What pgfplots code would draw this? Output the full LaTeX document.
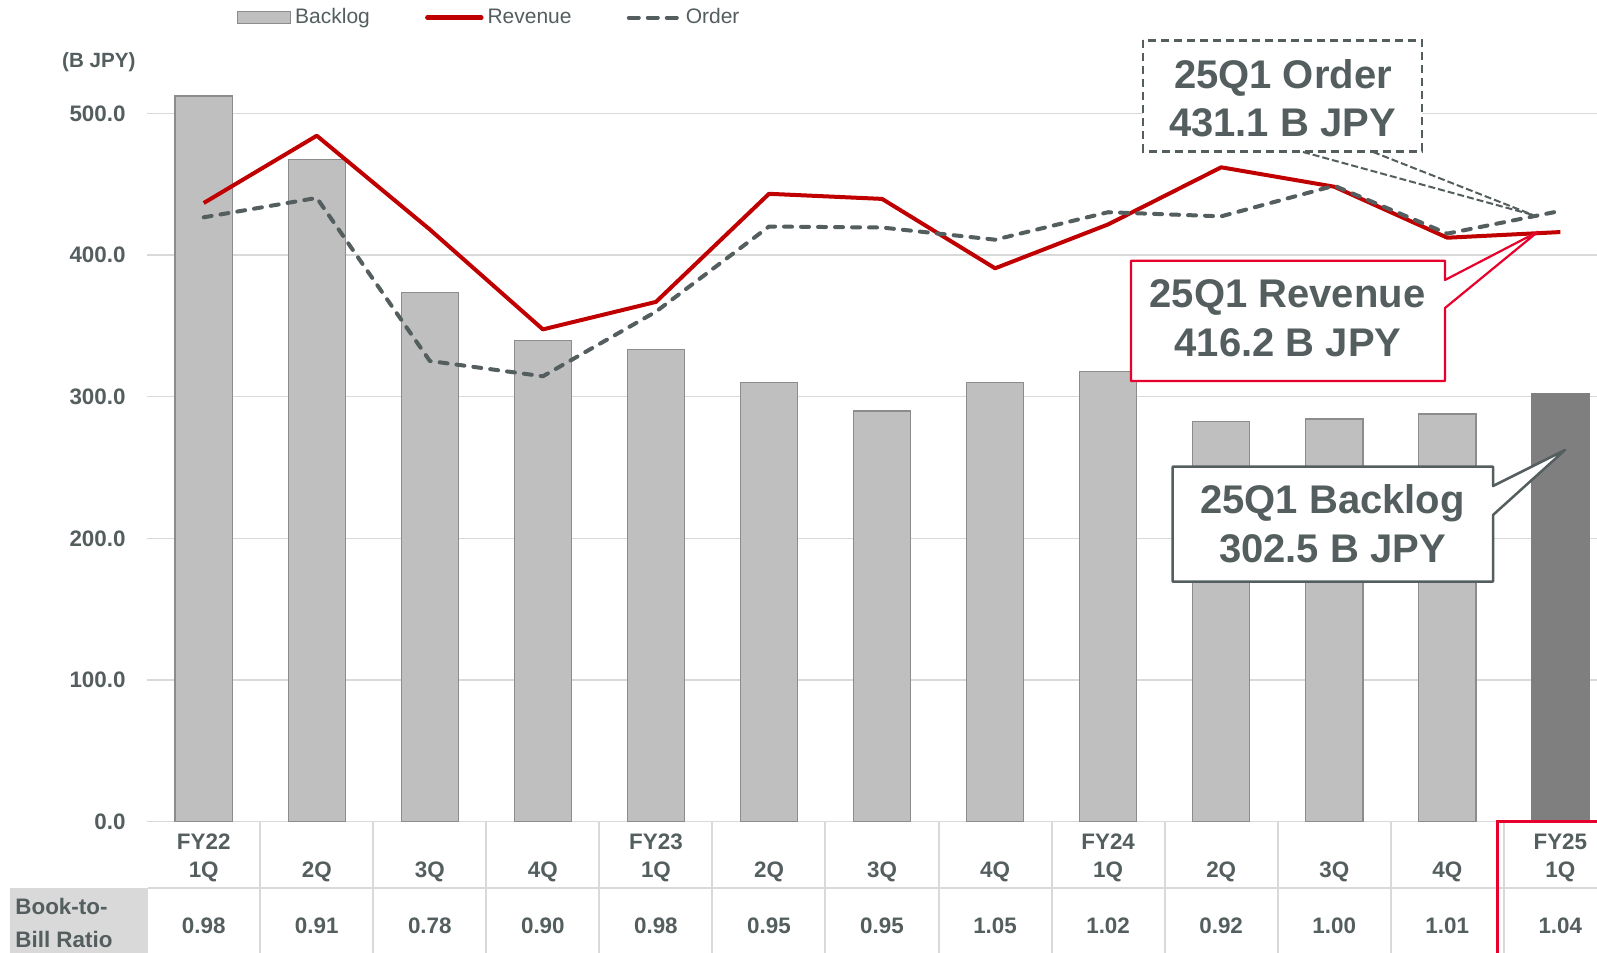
\documentclass[border=0pt]{standalone}
\usepackage{pgfplots}
\pgfplotsset{compat=1.18}
\usepackage{fontspec}
\setmainfont{Liberation Sans}
\definecolor{tc}{RGB}{84,94,94}
\definecolor{barfill}{RGB}{191,191,191}
\definecolor{bardraw}{RGB}{140,140,140}
\definecolor{lastbar}{RGB}{127,127,127}
\definecolor{revred}{RGB}{192,0,0}
\definecolor{hired}{RGB}{232,0,45}
\definecolor{gridc}{RGB}{217,217,217}
\newcommand{\tl}[2]{\strut #1\\\strut #2}
\begin{document}
\begin{tikzpicture}
\begin{axis}[
  at={(73.6pt,65.65pt)}, anchor=south west,
  scale only axis, width=724.9pt, height=410.85pt,
  xmin=-0.5, xmax=12.324, ymin=0, ymax=580,
  axis line style={draw=none},
  major tick length=0pt,
  ytick={0,100,...,500},
  ymajorgrids, grid style={draw=gridc, line width=0.75pt},
  yticklabel={\pgfmathprintnumber[fixed,fixed zerofill,precision=1,assume math mode=true]{\tick}},
  yticklabel style={anchor=east, inner sep=0pt, xshift=-10.6pt, font=\fontsize{11.2pt}{13pt}\selectfont\bfseries, text=tc},
  xtick={0,...,12},
  xticklabels={{\tl{FY22}{1Q}},{\tl{}{2Q}},{\tl{}{3Q}},{\tl{}{4Q}},{\tl{FY23}{1Q}},{\tl{}{2Q}},{\tl{}{3Q}},{\tl{}{4Q}},{\tl{FY24}{1Q}},{\tl{}{2Q}},{\tl{}{3Q}},{\tl{}{4Q}},{\tl{FY25}{1Q}}},
  xticklabel style={anchor=north, inner sep=0pt, yshift=-3.85pt, align=center, font=\fontsize{11.2pt}{14pt}\selectfont\bfseries, text=tc},
  legend columns=3,
  legend cell align=left,
  legend style={at={(axis description cs:0.0614,0.9785)}, anchor=west, draw=none, fill=none, inner sep=0pt, nodes={inner sep=2pt}, font=\fontsize{10.5pt}{12pt}\selectfont, text=tc, /tikz/every even column/.append style={column sep=25.6pt}},
]
\addplot[ybar, bar width=28.65pt, bar shift=0pt, fill=barfill, draw=bardraw, line width=0.6pt,
  legend image code/.code={\draw[fill=barfill, draw=bardraw, line width=0.6pt] (0pt,-2.9pt) rectangle (26.7pt,2.9pt);}]
  coordinates {(0,512.2) (1,467.6) (2,373.4) (3,339.6) (4,333.1) (5,310.1) (6,289.9) (7,310.1) (8,318.0) (9,282.7) (10,284.2) (11,287.8)};
\addlegendentry{Backlog}
\addplot[ybar, bar width=28.65pt, bar shift=0pt, fill=lastbar, draw=lastbar, line width=0.6pt, forget plot]
  coordinates {(12,302.5)};
\addplot[revred, line width=2pt, line join=round, mark=none,
  legend image code/.code={\draw[revred, line width=2.2pt, line cap=round] (0pt,0pt) -- (27pt,0pt);}]
  coordinates {(0,436.7) (1,484.2) (2,418.0) (3,347.5) (4,366.9) (5,443.2) (6,439.6) (7,390.6) (8,421.6) (9,461.9) (10,448.2) (11,412.2) (12,416.2)};
\addlegendentry{Revenue}
\addplot[tc, line width=2pt, dash pattern=on 4pt off 4.5pt, line cap=round, line join=round, mark=none,
  legend image code/.code={\draw[tc, line width=2pt, dash pattern=on 5pt off 4.5pt, line cap=round] (1pt,0pt) -- (26.5pt,0pt);}]
  coordinates {(0,426.6) (1,440.3) (2,325.2) (3,314.4) (4,360.0) (5,420.1) (6,419.4) (7,410.8) (8,430.2) (9,427.3) (10,448.9) (11,415.1) (12,431.1)};
\addlegendentry{Order}
\end{axis}
\begin{scope}[x=0.5pt, y=-0.5pt, yshift=476.5pt]
  % table
  \fill[gridc] (10,888) rectangle (148,956);
  \draw[gridc, line width=1pt] (148,888) -- (1600,888);
  \foreach \i in {0,...,11} {
    \draw[gridc, line width=1pt] ({203.7+113.05*(\i+0.5)},822.5) -- ({203.7+113.05*(\i+0.5)},956);
  }
  \draw[hired, line width=1.5pt] (1497.5,958) -- (1497.5,821.7) -- (1602,821.7);
  \foreach \v [count=\i from 0] in {0.98,0.91,0.78,0.90,0.98,0.95,0.95,1.05,1.02,0.92,1.00,1.01,1.04} {
    \node[anchor=base, inner sep=0pt, font=\fontsize{11.2pt}{13pt}\selectfont\bfseries, text=tc] at ({203.7+113.05*\i},933.5) {\v};
  }
  \node[anchor=base west, inner sep=0pt, font=\fontsize{11.2pt}{13pt}\selectfont\bfseries, text=tc] at (15,915) {Book-to-};
  \node[anchor=base west, inner sep=0pt, font=\fontsize{11.2pt}{13pt}\selectfont\bfseries, text=tc] at (15,947.3) {Bill Ratio};
  % unit
  \node[inner sep=0pt, font=\fontsize{10.3pt}{12pt}\selectfont\bfseries, text=tc] at (98.8,62.1) {(B JPY)};
  % order callout
  \draw[tc, line width=1.15pt, dash pattern=on 4pt off 2.5pt, fill=white] (1143,40.5) rectangle (1422,151.5);
  \draw[tc, line width=1pt, dash pattern=on 3.5pt off 1.5pt] (1303,152) -- (1533,215);
  \draw[tc, line width=1pt, dash pattern=on 3.5pt off 1.5pt] (1373,152) -- (1533,215);
  \node[anchor=base, inner sep=0pt, font=\fontsize{20pt}{24pt}\selectfont\bfseries, text=tc] at (1283,88.3) {25Q1 Order};
  \node[anchor=base, inner sep=0pt, font=\fontsize{20pt}{24pt}\selectfont\bfseries, text=tc] at (1282.5,136.7) {431.1 B JPY};
  % revenue callout
  \draw[hired, line width=1.1pt, fill=white, line join=round] (1131,260.7) -- (1445,260.7) -- (1445,280) -- (1538,231.7) -- (1445,308) -- (1445,381) -- (1131,381) -- cycle;
  \node[anchor=base, inner sep=0pt, font=\fontsize{20pt}{24pt}\selectfont\bfseries, text=tc] at (1287.5,307.3) {25Q1 Revenue};
  \node[anchor=base, inner sep=0pt, font=\fontsize{20pt}{24pt}\selectfont\bfseries, text=tc] at (1288,356.7) {416.2 B JPY};
  % backlog callout
  \draw[tc, line width=1.25pt, fill=white, line join=round] (1172.7,466.7) -- (1493,466.7) -- (1493,486) -- (1565,450) -- (1493,515) -- (1493,581.7) -- (1172.7,581.7) -- cycle;
  \node[anchor=base, inner sep=0pt, font=\fontsize{20pt}{24pt}\selectfont\bfseries, text=tc] at (1332.5,513.3) {25Q1 Backlog};
  \node[anchor=base, inner sep=0pt, font=\fontsize{20pt}{24pt}\selectfont\bfseries, text=tc] at (1332.5,562.7) {302.5 B JPY};
\end{scope}
\pgfresetboundingbox
\path[use as bounding box] (0,0) rectangle (798.5pt,476.5pt);
\end{tikzpicture}
\end{document}
